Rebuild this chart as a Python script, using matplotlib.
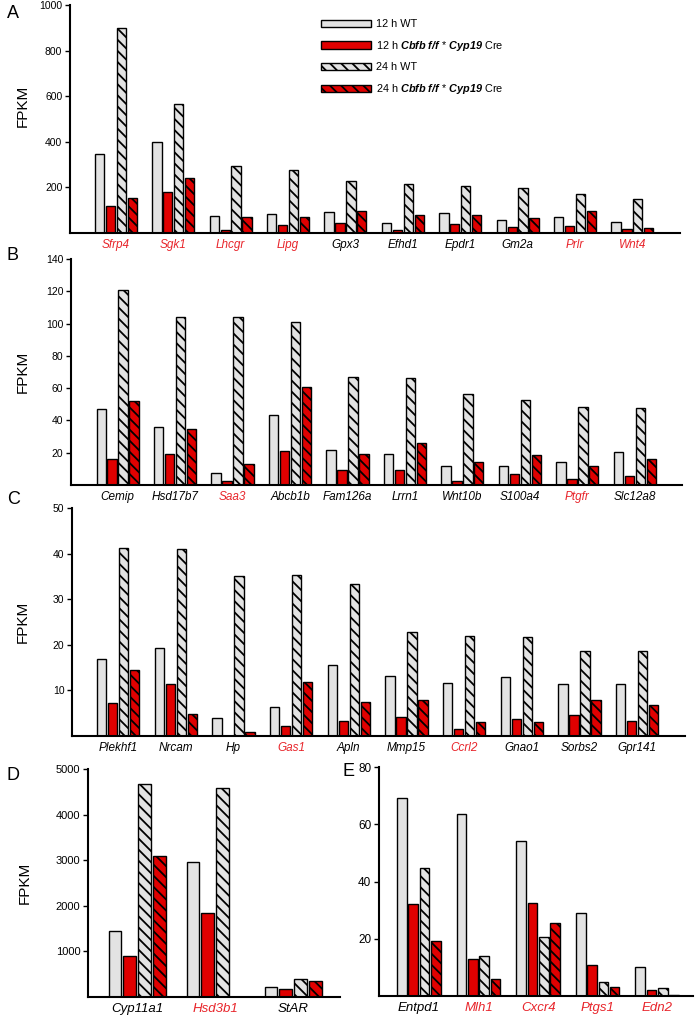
import matplotlib
matplotlib.use('Agg')
import matplotlib.pyplot as plt
import numpy as np

plt.rcParams['font.family'] = ['Liberation Sans', 'DejaVu Sans']
plt.rcParams['hatch.linewidth'] = 1.3
plt.rcParams['mathtext.fontset'] = 'custom'
plt.rcParams['mathtext.rm'] = 'Liberation Sans'
plt.rcParams['mathtext.it'] = 'Liberation Sans:italic'
plt.rcParams['mathtext.bf'] = 'Liberation Sans:bold'
plt.rcParams['mathtext.bfit'] = 'Liberation Sans:italic:bold'

# ---- data (FPKM) ----
genes_a = ['Sfrp4', 'Sgk1', 'Lhcgr', 'Lipg', 'Gpx3', 'Efhd1', 'Epdr1', 'Gm2a', 'Prlr', 'Wnt4']
wt12_a = [347, 397, 76, 82, 90, 45, 88, 58, 68, 47]
ko12_a = [117, 178, 15, 35, 45, 12, 40, 28, 30, 18]
wt24_a = [900, 565, 292, 278, 230, 215, 205, 197, 172, 148]
ko24_a = [155, 243, 72, 70, 98, 78, 80, 65, 97, 22]
red_a = ['Sfrp4', 'Sgk1', 'Lhcgr', 'Lipg', 'Prlr', 'Wnt4']

genes_b = ['Cemip', 'Hsd17b7', 'Saa3', 'Abcb1b', 'Fam126a', 'Lrrn1', 'Wnt10b', 'S100a4', 'Ptgfr', 'Slc12a8']
wt12_b = [47.1, 35.9, 7.2, 43.6, 21.9, 19.0, 11.7, 11.7, 14.3, 20.5]
ko12_b = [16.0, 19.5, 2.7, 20.9, 9.2, 9.2, 2.7, 6.8, 3.9, 5.7]
wt24_b = [120.5, 103.9, 103.9, 100.8, 66.6, 66.0, 56.4, 52.9, 48.2, 47.5]
ko24_b = [52.3, 34.4, 13.3, 60.9, 19.5, 26.0, 14.3, 18.6, 11.7, 16.2]
red_b = ['Saa3', 'Ptgfr']

genes_c = ['Plekhf1', 'Nrcam', 'Hp', 'Gas1', 'Apln', 'Mmp15', 'Ccrl2', 'Gnao1', 'Sorbs2', 'Gpr141']
wt12_c = [16.8, 19.4, 3.95, 6.4, 15.6, 13.2, 11.6, 12.9, 11.3, 11.5]
ko12_c = [7.2, 11.5, 0.0, 2.3, 3.3, 4.2, 1.5, 3.8, 4.5, 3.2]
wt24_c = [41.3, 40.9, 35.0, 35.4, 33.4, 22.7, 21.9, 21.8, 18.7, 18.6]
ko24_c = [14.4, 4.9, 0.9, 11.9, 7.5, 7.9, 3.1, 3.0, 7.8, 6.7]
red_c = ['Gas1', 'Ccrl2']

genes_d = ['Cyp11a1', 'Hsd3b1', 'StAR']
wt12_d = [1438, 2956, 218]
ko12_d = [908, 1852, 167]
wt24_d = [4662, 4590, 400]
ko24_d = [3086, 0, 341]
red_d = ['Hsd3b1']

genes_e = ['Entpd1', 'Mlh1', 'Cxcr4', 'Ptgs1', 'Edn2']
wt12_e = [69.0, 63.5, 54.2, 29.1, 10.2]
ko12_e = [32.2, 12.8, 32.6, 11.0, 2.0]
wt24_e = [44.8, 13.9, 20.5, 5.0, 2.9]
ko24_e = [19.2, 6.1, 25.4, 3.3, 0.5]
red_e = ['Mlh1', 'Cxcr4', 'Ptgs1', 'Edn2']

series_names = ['12 h WT',
                r'12 h $\mathbfit{Cbfb\ f/f}$ * $\mathbfit{Cyp19}$ Cre',
                '24 h WT',
                r'24 h $\mathbfit{Cbfb\ f/f}$ * $\mathbfit{Cyp19}$ Cre']

GRAY = '#e3e3e3'
RED = '#e00000'
LABRED = '#e8252b'
HATCH = '\\' * 3
styles = [(GRAY, ''), (RED, ''), (GRAY, HATCH), (RED, HATCH)]
offs = np.array([-1.5, -0.5, 0.5, 1.5]) * 0.19
bw = 0.162

W, H = 700, 1017
fig = plt.figure(figsize=(W / 100, H / 100), dpi=100)


def add_axes(l, r, t, b):
    return fig.add_axes([l / W, 1 - b / H, (r - l) / W, (b - t) / H])


def panel(ax, genes, series, red, ylim, yticks, xlim, tick_fs, lab_fs, ylabel=True):
    x = np.arange(len(genes))
    bars = []
    for k, vals in enumerate(series):
        fc, hatch = styles[k]
        b = ax.bar(x + offs[k], vals, width=bw, color=fc, edgecolor='black',
                   linewidth=1.0, hatch=hatch, zorder=2, label=series_names[k])
        bars.append(b)
    ax.set_xlim(*xlim)
    ax.set_ylim(*ylim)
    ax.set_yticks(yticks)
    ax.tick_params(axis='y', length=3.5, width=1.0, labelsize=tick_fs, pad=2, direction='out')
    ax.set_xticks(x)
    ax.set_xticklabels(genes, style='italic', fontsize=lab_fs)
    ax.tick_params(axis='x', length=0, pad=4)
    for lab in ax.get_xticklabels():
        if lab.get_text() in red:
            lab.set_color(LABRED)
    for s in ['top', 'right']:
        ax.spines[s].set_visible(False)
    for s in ['left', 'bottom']:
        ax.spines[s].set_linewidth(1.5)
    if ylabel:
        ax.set_ylabel('FPKM', fontsize=11)
    return bars


ax_a = add_axes(70, 680, 5, 233)
bars = panel(ax_a, genes_a, [wt12_a, ko12_a, wt24_a, ko24_a], red_a, (0, 1000),
             [200, 400, 600, 800, 1000], (-0.8, 9.83), 7.5, 8.5)
ax_a.yaxis.set_label_coords(-40 / 610, 0.557)
ax_a.legend(handles=bars, loc='upper left', bbox_to_anchor=(321 / W, 1 - 19 / H),
            bbox_transform=fig.transFigure, frameon=False, fontsize=7.8,
            handlelength=4.6, handleheight=0.65, labelspacing=0.9,
            handletextpad=0.45, borderpad=0, borderaxespad=0)

ax_b = add_axes(71, 682, 259, 485)
panel(ax_b, genes_b, [wt12_b, ko12_b, wt24_b, ko24_b], red_b, (0, 140),
      [20, 40, 60, 80, 100, 120, 140], (-0.81, 9.82), 7.5, 8.5)
ax_b.yaxis.set_label_coords(-41 / 611, 0.5)

ax_c = add_axes(72, 685, 508, 736)
panel(ax_c, genes_c, [wt12_c, ko12_c, wt24_c, ko24_c], red_c, (0, 50),
      [10, 20, 30, 40, 50], (-0.8, 9.83), 7.5, 8.5)
ax_c.yaxis.set_label_coords(-42 / 613, 0.5)

ax_d = add_axes(88, 340, 769, 997)
panel(ax_d, genes_d, [wt12_d, ko12_d, wt24_d, ko24_d], red_d, (0, 5000),
      [1000, 2000, 3000, 4000, 5000], (-0.63, 2.6), 8, 9.5)
ax_d.yaxis.set_label_coords(-56 / 252, 0.5)

ax_e = add_axes(379, 693, 767, 996)
panel(ax_e, genes_e, [wt12_e, ko12_e, wt24_e, ko24_e], red_e, (0, 80),
      [20, 40, 60, 80], (-0.67, 4.6), 8.5, 9.5, ylabel=False)

for letter, px, py in [('A', 7, 13), ('B', 7, 255), ('C', 7, 500), ('D', 7, 775), ('E', 343, 772)]:
    fig.text(px / W, 1 - py / H, letter, fontsize=13, ha='left', va='center')

fig.savefig('out.png', dpi=100)
